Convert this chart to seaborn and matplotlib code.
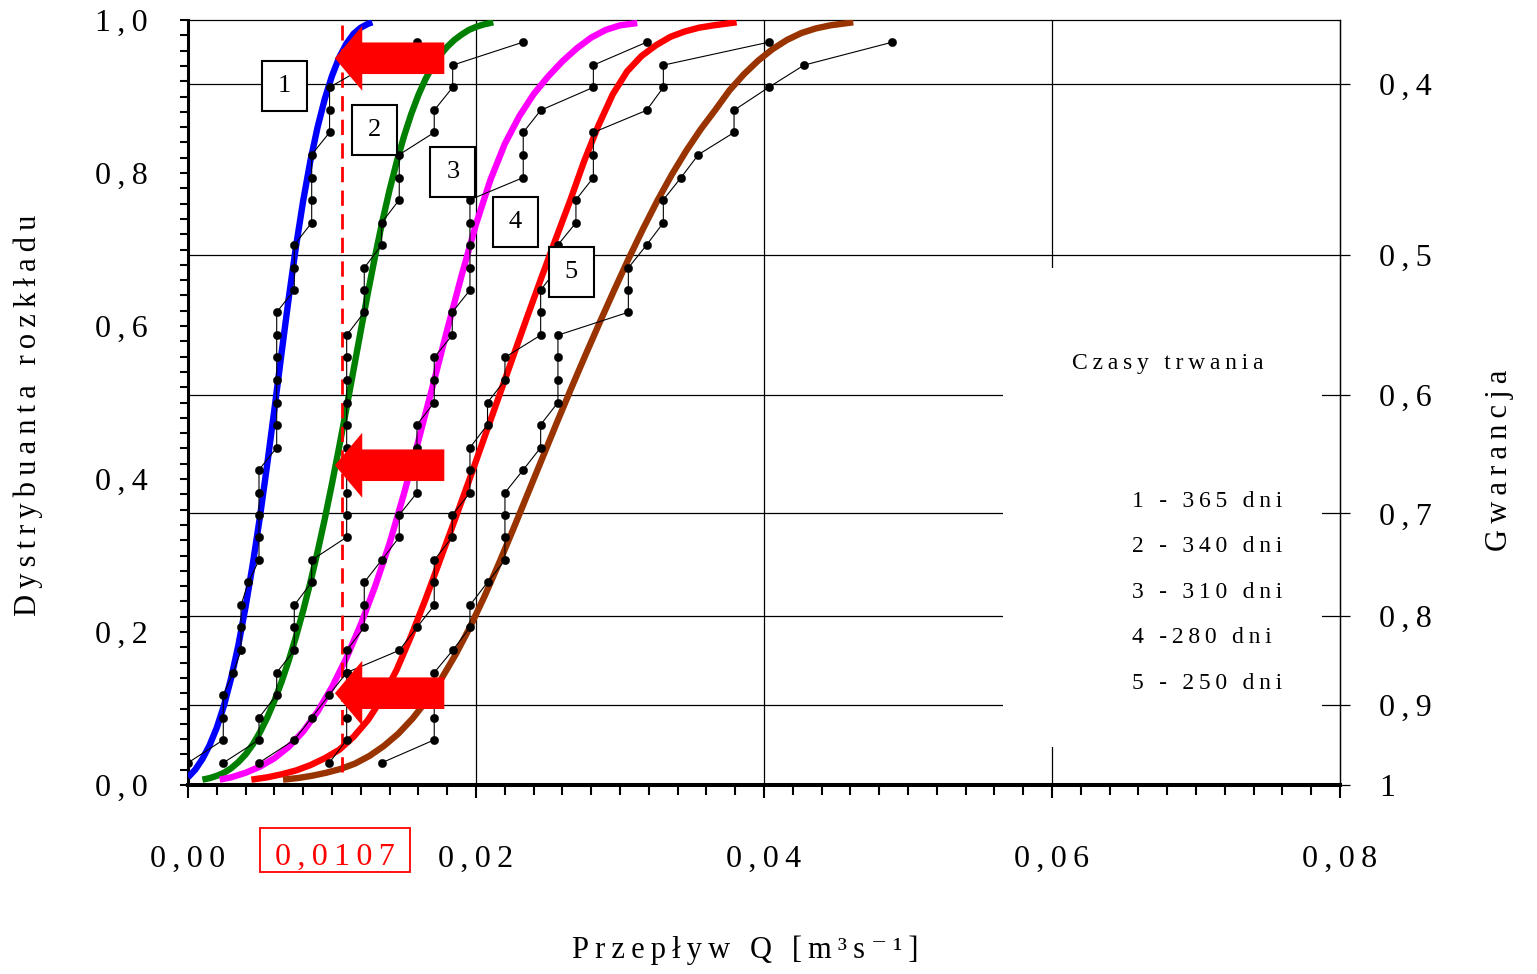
import matplotlib
matplotlib.use("Agg")
import matplotlib.pyplot as plt
import seaborn as sns
from matplotlib.patches import FancyArrow, Rectangle
from matplotlib.ticker import FixedLocator, MultipleLocator
from matplotlib.transforms import blended_transform_factory

# empirical plotting positions, shared by all five series
F_EMP = [0.029, 0.059, 0.088, 0.118, 0.147, 0.176, 0.206, 0.235, 0.265, 0.294,
         0.324, 0.353, 0.382, 0.412, 0.441, 0.471, 0.500, 0.529, 0.559, 0.588,
         0.618, 0.647, 0.676, 0.706, 0.735, 0.765, 0.794, 0.824, 0.853, 0.882,
         0.912, 0.941, 0.971]

Q_EMP_1 = [0.0000, 0.00245, 0.00245, 0.00245, 0.00315, 0.00368, 0.00368, 0.00368, 0.00419, 0.00493,
           0.00493, 0.00493, 0.00493, 0.00493, 0.00616, 0.00616, 0.00616, 0.00616, 0.00616, 0.00616,
           0.00616, 0.00738, 0.00738, 0.00738, 0.00859, 0.00859, 0.00859, 0.00859, 0.00983, 0.00983,
           0.00983, 0.0125, 0.01588]
Q_EMP_2 = [0.00245, 0.00493, 0.00493, 0.00616, 0.00616, 0.00738, 0.00738, 0.00738, 0.00859, 0.00859,
           0.01102, 0.01102, 0.01102, 0.01102, 0.01102, 0.01102, 0.01102, 0.01102, 0.01102, 0.01102,
           0.01224, 0.01224, 0.01224, 0.01345, 0.01345, 0.01467, 0.01467, 0.01467, 0.01710, 0.01710,
           0.01838, 0.01838, 0.02326]
Q_EMP_3 = [0.00493, 0.00738, 0.00859, 0.00981, 0.01102, 0.01102, 0.01224, 0.01224, 0.01224, 0.01345,
           0.01467, 0.01467, 0.01590, 0.01590, 0.01590, 0.01590, 0.01710, 0.01710, 0.01710, 0.01835,
           0.01835, 0.01958, 0.01958, 0.01958, 0.01958, 0.01958, 0.02328, 0.02328, 0.02328, 0.02449,
           0.02815, 0.02815, 0.03185]
Q_EMP_4 = [0.00981, 0.01102, 0.01102, 0.01102, 0.01102, 0.01467, 0.01590, 0.01710, 0.01710, 0.01710,
           0.01835, 0.01835, 0.01958, 0.01958, 0.01958, 0.02080, 0.02080, 0.02201, 0.02201, 0.02449,
           0.02449, 0.02449, 0.02569, 0.02569, 0.02694, 0.02694, 0.02815, 0.02815, 0.02815, 0.03185,
           0.03301, 0.03301, 0.04033]
Q_EMP_5 = [0.01345, 0.01710, 0.01710, 0.01710, 0.01710, 0.01838, 0.01958, 0.01958, 0.02080, 0.02201,
           0.02201, 0.02201, 0.02201, 0.02328, 0.02449, 0.02449, 0.02569, 0.02569, 0.02569, 0.02569,
           0.03058, 0.03058, 0.03058, 0.03185, 0.03301, 0.03301, 0.03424, 0.03544, 0.03792, 0.03792,
           0.04033, 0.04278, 0.04891]

# fitted distribution curves
CURVE_Q_1 = [0.0000, 0.0005, 0.0010, 0.0015, 0.0020, 0.0025, 0.0030, 0.0035, 0.0040, 0.0045,
             0.0050, 0.0055, 0.0060, 0.0065, 0.0070, 0.0075, 0.0080, 0.0085, 0.0090, 0.0095,
             0.0100, 0.0105, 0.0110, 0.0115, 0.0120, 0.0125, 0.0128]
CURVE_F_1 = [0.010, 0.020, 0.034, 0.052, 0.075, 0.104, 0.140, 0.183, 0.233, 0.289,
             0.351, 0.419, 0.491, 0.565, 0.637, 0.704, 0.764, 0.816, 0.860, 0.897,
             0.927, 0.951, 0.969, 0.982, 0.990, 0.995, 0.997]
CURVE_Q_2 = [0.0010, 0.0015, 0.0020, 0.0025, 0.0030, 0.0035, 0.0040, 0.0045, 0.0050, 0.0055,
             0.0060, 0.0065, 0.0070, 0.0075, 0.0080, 0.0085, 0.0090, 0.0095, 0.0100, 0.0105,
             0.0110, 0.0115, 0.0120, 0.0125, 0.0130, 0.0135, 0.0140, 0.0145, 0.0150, 0.0155,
             0.0160, 0.0165, 0.0170, 0.0175, 0.0180, 0.0185, 0.0190, 0.0195, 0.0200, 0.0205, 0.0212]
CURVE_F_2 = [0.007, 0.009, 0.012, 0.016, 0.022, 0.030, 0.040, 0.053, 0.069, 0.088,
             0.110, 0.135, 0.163, 0.194, 0.228, 0.265, 0.305, 0.348, 0.394, 0.442,
             0.492, 0.543, 0.594, 0.644, 0.692, 0.737, 0.778, 0.815, 0.848, 0.877,
             0.902, 0.923, 0.940, 0.954, 0.965, 0.974, 0.981, 0.987, 0.991, 0.994, 0.997]
CURVE_Q_3 = [0.0022, 0.0030, 0.0040, 0.0050, 0.0060, 0.0070, 0.0080, 0.0090, 0.0100, 0.0110,
             0.0120, 0.0130, 0.0140, 0.0150, 0.0160, 0.0170, 0.0180, 0.0190, 0.0200, 0.0210,
             0.0220, 0.0230, 0.0240, 0.0250, 0.0260, 0.0270, 0.0280, 0.0290, 0.0300, 0.0312]
CURVE_F_3 = [0.007, 0.010, 0.016, 0.024, 0.035, 0.050, 0.070, 0.096, 0.128, 0.166,
             0.210, 0.260, 0.316, 0.381, 0.450, 0.522, 0.595, 0.666, 0.733, 0.791,
             0.838, 0.874, 0.903, 0.926, 0.946, 0.963, 0.977, 0.987, 0.993, 0.996]
CURVE_Q_4 = [0.0044, 0.0055, 0.0065, 0.0075, 0.0085, 0.0095, 0.0105, 0.0115, 0.0125, 0.0135,
             0.0145, 0.0155, 0.0165, 0.0175, 0.0185, 0.0195, 0.0205, 0.0215, 0.0225, 0.0235,
             0.0245, 0.0255, 0.0265, 0.0275, 0.0285, 0.0295, 0.0305, 0.0315, 0.0325, 0.0335,
             0.0345, 0.0355, 0.0365, 0.0381]
CURVE_F_4 = [0.007, 0.010, 0.014, 0.019, 0.026, 0.035, 0.046, 0.063, 0.085, 0.114,
             0.151, 0.195, 0.243, 0.294, 0.345, 0.397, 0.450, 0.503, 0.556, 0.609,
             0.661, 0.712, 0.762, 0.815, 0.862, 0.903, 0.933, 0.953, 0.967, 0.978,
             0.985, 0.990, 0.993, 0.997]
CURVE_Q_5 = [0.0066, 0.0076, 0.0086, 0.0096, 0.0106, 0.0116, 0.0126, 0.0136, 0.0146, 0.0156,
             0.0166, 0.0176, 0.0186, 0.0196, 0.0206, 0.0216, 0.0226, 0.0236, 0.0246, 0.0256,
             0.0266, 0.0276, 0.0286, 0.0296, 0.0306, 0.0316, 0.0326, 0.0336, 0.0346, 0.0356,
             0.0366, 0.0376, 0.0386, 0.0396, 0.0406, 0.0416, 0.0426, 0.0436, 0.0446, 0.0462]
CURVE_F_5 = [0.007, 0.009, 0.012, 0.016, 0.021, 0.028, 0.038, 0.051, 0.067, 0.087,
             0.111, 0.139, 0.171, 0.207, 0.247, 0.290, 0.335, 0.381, 0.427, 0.473,
             0.518, 0.562, 0.605, 0.647, 0.688, 0.727, 0.764, 0.798, 0.829, 0.857,
             0.882, 0.908, 0.929, 0.947, 0.962, 0.974, 0.983, 0.989, 0.993, 0.997]

CURVE_COLORS = ["#0000ff", "#008000", "#ff00ff", "#ff0000", "#993300"]
DURATIONS = ["1 - 365 dni", "2 - 340 dni", "3 - 310 dni", "4 -280 dni", "5 - 250 dni"]

# curve number boxes (Q, F)
BOX_Q = [0.00667, 0.01292, 0.01840, 0.02271, 0.02660]
BOX_F = [0.9137, 0.8562, 0.8013, 0.7359, 0.6706]

# read-off flow and the three probabilities it gives
Q_MARK = 0.0107
ARROW_F = [0.950, 0.418, 0.120]

F_TICKS = [0.0, 0.2, 0.4, 0.6, 0.8, 1.0]
F_LABELS = ["0,0", "0,2", "0,4", "0,6", "0,8", "1,0"]
Q_TICKS = [0.00, 0.02, 0.04, 0.06, 0.08]
Q_LABELS = ["0,00", "0,02", "0,04", "0,06", "0,08"]
G_POS = [0.9160, 0.6928, 0.5098, 0.3551, 0.2213, 0.1046, 0.0]
G_LABELS = ["0,4", "0,5", "0,6", "0,7", "0,8", "0,9", "1"]

SP = "\u2009"


def spaced(text):
    return SP.join(text)


sns.set_style("ticks")
plt.rcParams["font.family"] = ["Liberation Serif", "DejaVu Serif"]
plt.rcParams["text.color"] = "black"
plt.rcParams["axes.edgecolor"] = "black"
plt.rcParams["xtick.color"] = "black"
plt.rcParams["ytick.color"] = "black"

W, H = 1537, 974
fig = plt.figure(figsize=(W / 100, H / 100), dpi=100)
ax = fig.add_axes([188 / W, 1 - 785 / H, (1340 - 188) / W, (785 - 20) / H])
ax.set_xlim(0, 0.08)
ax.set_ylim(0, 1)

# grid: verticals at major flow ticks, horizontals at guarantee levels
ax.vlines(Q_TICKS[1:-1], 0, 1, colors="black", lw=0.9, zorder=0.5)
ax.hlines(G_POS[:-1], 0, 0.08, colors="black", lw=0.9, zorder=0.5)

# white legend panel hides the grid behind the text
ax.add_patch(Rectangle((0.0566, 0.0497), 0.02215, 0.6261, facecolor="white",
                       edgecolor="none", zorder=1))
ax.text(0.06806, 0.5516, spaced("Czasy trwania"), fontsize=17, ha="center", va="center", zorder=2)
for k, label in enumerate(DURATIONS):
    ax.text(0.06556, 0.3712 - k * 0.0595, spaced(label), fontsize=17, ha="left", va="center", zorder=2)

curves = [(CURVE_Q_1, CURVE_F_1), (CURVE_Q_2, CURVE_F_2), (CURVE_Q_3, CURVE_F_3),
          (CURVE_Q_4, CURVE_F_4), (CURVE_Q_5, CURVE_F_5)]
for (q, f), color in zip(curves, CURVE_COLORS):
    sns.lineplot(x=q, y=f, color=color, lw=4.6, ax=ax, sort=False, estimator=None,
                 solid_joinstyle="round", solid_capstyle="butt", zorder=3)

for q in [Q_EMP_1, Q_EMP_2, Q_EMP_3, Q_EMP_4, Q_EMP_5]:
    sns.lineplot(x=q, y=F_EMP, color="black", lw=0.8, marker="o", markersize=6,
                 markeredgecolor="black", markeredgewidth=0.3, ax=ax, sort=False,
                 estimator=None, zorder=4)

ax.axvline(Q_MARK, ymin=0.017, ymax=0.993, color="red", lw=2, linestyle=(0, (5.5, 3)), zorder=3.5)

# number boxes
bw, bh = 45 / 14400, 50 / 765
for k, (bq, bf) in enumerate(zip(BOX_Q, BOX_F)):
    ax.add_patch(Rectangle((bq - bw / 2, bf - bh / 2), bw, bh, facecolor="white",
                           edgecolor="black", lw=1.5, zorder=6))
    ax.text(bq, bf, str(k + 1), fontsize=19, ha="center", va="center", zorder=7)

# arrows pointing at the read-off flow
for af in ARROW_F:
    tail = Q_MARK + 0.0071
    tip = Q_MARK - 0.0005
    ax.add_patch(FancyArrow(tail, af, tip - tail, 0, width=0.0413, head_width=0.085,
                            head_length=0.0019, length_includes_head=True,
                            facecolor="red", edgecolor="none", zorder=8))

# axes styling
for side in ["top", "right"]:
    ax.spines[side].set_linewidth(0.9)
ax.spines["left"].set_linewidth(2.2)
ax.spines["bottom"].set_linewidth(2.9)
ax.xaxis.set_major_locator(FixedLocator(Q_TICKS))
ax.xaxis.set_minor_locator(MultipleLocator(0.002))
ax.set_xticklabels([spaced(s) for s in Q_LABELS], fontsize=23)
ax.yaxis.set_major_locator(FixedLocator(F_TICKS))
ax.yaxis.set_minor_locator(MultipleLocator(0.02))
ax.set_yticklabels([spaced(s) for s in F_LABELS], fontsize=23)
ax.tick_params(axis="x", which="major", direction="out", length=9.4, width=1.5, pad=34)
ax.tick_params(axis="x", which="minor", direction="out", length=7, width=1.5)
ax.tick_params(axis="y", which="both", direction="out", length=5.8, width=1.5, pad=23)

ax2 = ax.twinx()
ax2.set_ylim(0, 1)
ax2.set_yticks(G_POS)
ax2.set_yticklabels([spaced(s) for s in G_LABELS], fontsize=23)
ax2.tick_params(axis="y", direction="out", length=7, width=0.9, pad=21)
for side in ["top", "left", "bottom"]:
    ax2.spines[side].set_visible(False)
ax2.spines["right"].set_linewidth(0.9)

# highlighted read-off value under the axis
blend = blended_transform_factory(ax.transData, ax.transAxes)
ax.add_patch(Rectangle((0.0050, -0.1137), 0.01042, 0.0575, transform=blend, facecolor="none",
                       edgecolor="red", lw=1.3, clip_on=False, zorder=5))
ax.text(0.01021, -0.094, spaced("0,0107"), transform=blend, color="red", fontsize=23,
        ha="center", va="center", clip_on=False)

fig.text(28 / W, 1 - 415 / H, spaced("Dystrybuanta rozkładu"), rotation=90, fontsize=22,
         ha="center", va="center")
fig.text(1500 / W, 1 - 460 / H, spaced("Gwarancja"), rotation=90, fontsize=22,
         ha="center", va="center")
fig.text(745 / W, 1 - 950 / H, spaced("Przepływ Q [m³s⁻¹]"), fontsize=22,
         ha="center", va="center")

fig.savefig("out.png", dpi=100)
